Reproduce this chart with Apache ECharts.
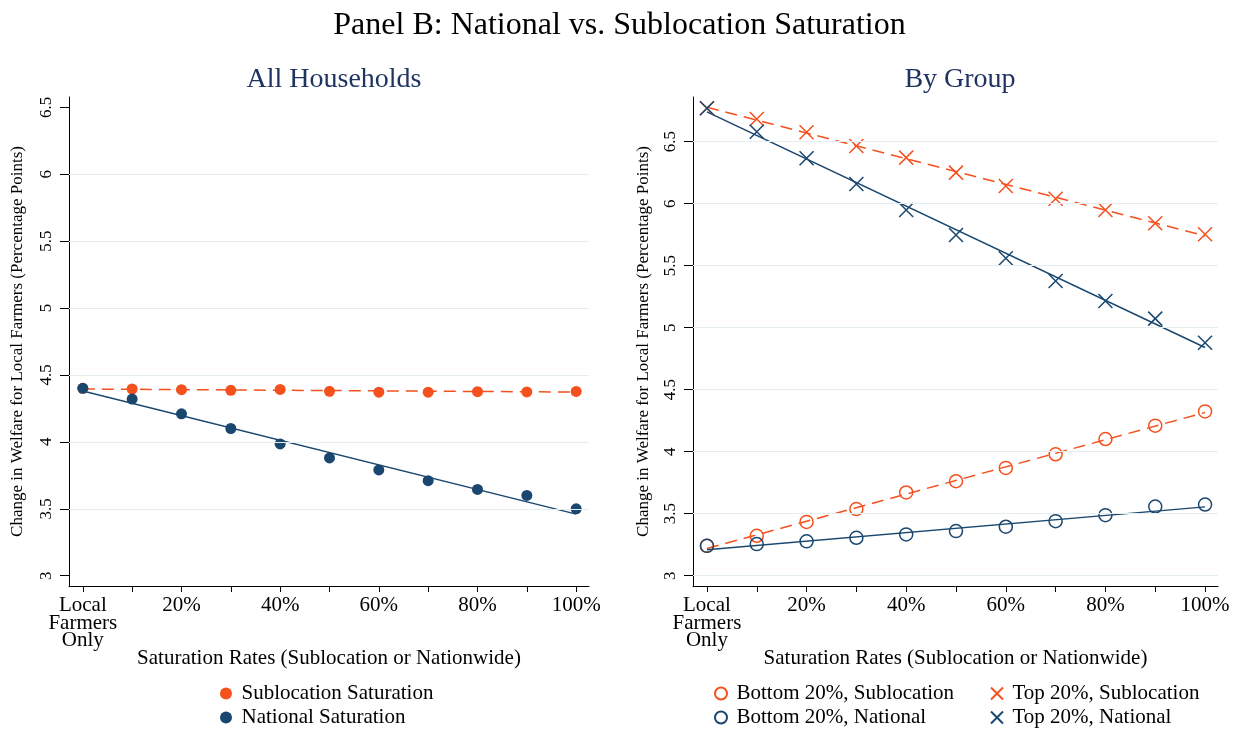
<!DOCTYPE html>
<html><head><meta charset="utf-8">
<script src="https://cdn.jsdelivr.net/npm/echarts@6/dist/echarts.min.js"></script>
<style>html,body{margin:0;padding:0;background:#fff}#c{width:1239px;height:730px}</style>
</head><body><div id="c"></div>
<script>
// ---- data ----
const categories = ['Local\nFarmers\nOnly','10%','20%','30%','40%','50%','60%','70%','80%','90%','100%'];
const labelledCats = [0,2,4,6,8,10];
const yTicks = [3,3.5,4,4.5,5,5.5,6,6.5];
const gridLinesLeft = [3.5,4,4.5,5,5.5,6];
const gridLinesRight = [3,3.5,4,4.5,5,5.5,6,6.5];

const allSub = [4.40,4.395,4.39,4.385,4.392,4.378,4.371,4.371,4.375,4.373,4.377];
const allNat = [4.40,4.32,4.21,4.10,3.985,3.88,3.79,3.71,3.645,3.60,3.50];
const allSubFit = [4.395,4.372];
const allNatFit = [4.38,3.46];

const botSub = [3.241,3.322,3.434,3.537,3.671,3.762,3.869,3.979,4.102,4.21,4.325];
const botNat = [3.241,3.255,3.277,3.306,3.333,3.36,3.395,3.44,3.488,3.558,3.574];
const topSub = [6.77,6.683,6.576,6.465,6.371,6.25,6.143,6.04,5.949,5.842,5.753];
const topNat = [6.77,6.58,6.366,6.159,5.949,5.748,5.56,5.377,5.215,5.073,4.879];
const botSubFit = [3.22,4.316];
const botNatFit = [3.21,3.555];
const topSubFit = [6.777,5.74];
const topNatFit = [6.74,4.84];

// ---- style ----
const ORANGE = '#f4511e', NAVY = '#1a476f', SUBT = '#1f3462', GRIDC = '#e4edf0';
const FONT = 'Liberation Serif';
const XMARK = 'path://M0,0L10,10M10,0L0,10';

const pts = arr => arr.map((v,i)=>[i,v]);
const fit = f => [[0,f[0]],[categories.length-1,f[1]]];

function xAxis(gi){
  return {type:'value', gridIndex:gi, min:-0.28, max:10.26,
    name:'Saturation Rates (Sublocation or Nationwide)', nameLocation:'middle', nameGap:62, nameMoveOverlap:false,
    nameTextStyle:{fontFamily:FONT,fontSize:21,color:'#000'},
    axisLine:{show:true,onZero:false,lineStyle:{color:'#000',width:1}},
    axisTick:{show:true,length:6,customValues:categories.map((c,i)=>i),lineStyle:{color:'#000'}},
    axisLabel:{customValues:labelledCats,margin:11,fontFamily:FONT,fontSize:21,color:'#000',lineHeight:17.5,
      formatter:v=>categories[Math.round(v)]},
    splitLine:{show:false}};
}
function yAxis(gi,min,max,gap){
  return {type:'value', gridIndex:gi, min:min, max:max,
    name:'Change in Welfare for Local Farmers (Percentage Points)', nameLocation:'middle', nameGap:gap, nameRotate:90, nameMoveOverlap:false,
    nameTextStyle:{fontFamily:FONT,fontSize:17,color:'#000'},
    axisLine:{show:true,onZero:false,lineStyle:{color:'#000',width:1}},
    axisTick:{show:true,length:9,customValues:yTicks,lineStyle:{color:'#000'}},
    axisLabel:{customValues:yTicks,rotate:90,margin:14,fontFamily:FONT,fontSize:17,color:'#000',formatter:v=>String(v)},
    splitLine:{show:false}};
}
function gridSeries(gi,vals){
  return {type:'line',xAxisIndex:gi,yAxisIndex:gi,data:[],z:1,silent:true,
    markLine:{silent:true,symbol:'none',label:{show:false},animation:false,
      lineStyle:{color:GRIDC,width:1.2,type:'solid'},data:vals.map(v=>({yAxis:v}))}};
}
function fitLine(gi,f,color,dashed){
  return {type:'line',xAxisIndex:gi,yAxisIndex:gi,data:fit(f),showSymbol:false,symbol:'none',silent:true,z:2,
    lineStyle:{color:color,width:1.5,type:dashed?[12,7]:'solid'}};
}
function legendItem(name,left,top){
  return {left:left,top:top,itemWidth:13,itemHeight:12,itemGap:0,
    textStyle:{fontFamily:FONT,fontSize:21,color:'#000',lineHeight:20,padding:[0,0,0,4]},
    data:[{name:name}]};
}

const option = {
  backgroundColor:'#fff',
  animation:false,
  title:[
    {text:'Panel B: National vs. Sublocation Saturation',left:'center',top:5,textStyle:{fontFamily:FONT,fontSize:32,fontWeight:'normal',color:'#000'}},
    {text:'All Households',left:329,textAlign:'center',top:61,textStyle:{fontFamily:FONT,fontSize:28,fontWeight:'normal',color:SUBT}},
    {text:'By Group',left:955,textAlign:'center',top:61,textStyle:{fontFamily:FONT,fontSize:28,fontWeight:'normal',color:SUBT}}
  ],
  grid:[
    {left:69,top:97,width:520,height:489},
    {left:693,top:97,width:525,height:489}
  ],
  xAxis:[xAxis(0),xAxis(1)],
  yAxis:[yAxis(0,2.923,6.577,43),yAxis(1,2.917,6.86,41)],
  legend:[
    legendItem('Sublocation Saturation',215,678),
    legendItem('National Saturation',215,702),
    legendItem('Bottom 20%, Sublocation',709,678),
    legendItem('Bottom 20%, National',709,702),
    legendItem('Top 20%, Sublocation',985,678),
    legendItem('Top 20%, National',985,702)
  ],
  series:[
    gridSeries(0,gridLinesLeft),
    gridSeries(1,gridLinesRight),
    fitLine(0,allSubFit,ORANGE,true),
    fitLine(0,allNatFit,NAVY,false),
    {name:'Sublocation Saturation',type:'scatter',xAxisIndex:0,yAxisIndex:0,data:pts(allSub),symbol:'circle',symbolSize:11,z:3,
      itemStyle:{color:ORANGE,opacity:1}},
    {name:'National Saturation',type:'scatter',xAxisIndex:0,yAxisIndex:0,data:pts(allNat),symbol:'circle',symbolSize:11,z:3,
      itemStyle:{color:NAVY,opacity:1}},
    fitLine(1,botSubFit,ORANGE,true),
    fitLine(1,botNatFit,NAVY,false),
    fitLine(1,topSubFit,ORANGE,true),
    fitLine(1,topNatFit,NAVY,false),
    {name:'Bottom 20%, Sublocation',type:'scatter',xAxisIndex:1,yAxisIndex:1,data:pts(botSub),symbol:'circle',symbolSize:13,z:3,
      itemStyle:{color:'rgba(255,255,255,0)',borderColor:ORANGE,borderWidth:1.5,opacity:1}},
    {name:'Bottom 20%, National',type:'scatter',xAxisIndex:1,yAxisIndex:1,data:pts(botNat),symbol:'circle',symbolSize:13,z:3,
      itemStyle:{color:'rgba(255,255,255,0)',borderColor:NAVY,borderWidth:1.5,opacity:1}},
    {name:'Top 20%, Sublocation',type:'scatter',xAxisIndex:1,yAxisIndex:1,data:pts(topSub),symbol:XMARK,symbolSize:14,z:3,
      itemStyle:{color:'rgba(255,255,255,0)',borderColor:ORANGE,borderWidth:1.5,opacity:1}},
    {name:'Top 20%, National',type:'scatter',xAxisIndex:1,yAxisIndex:1,data:pts(topNat),symbol:XMARK,symbolSize:14,z:3,
      itemStyle:{color:'rgba(255,255,255,0)',borderColor:NAVY,borderWidth:1.5,opacity:1}}
  ]
};
const chart = echarts.init(document.getElementById('c'),null,{renderer:'canvas'});
chart.setOption(option);
</script>
</body></html>
